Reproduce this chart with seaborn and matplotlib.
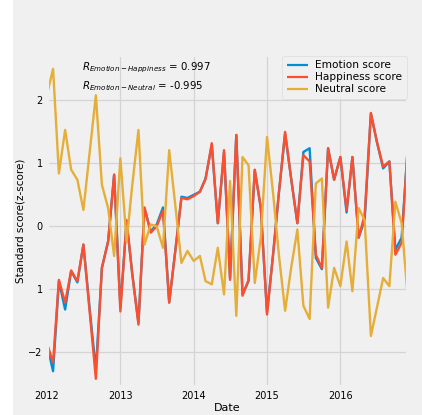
import matplotlib
matplotlib.use("Agg")
import matplotlib.pyplot as plt
import matplotlib.dates as mdates
from matplotlib.patches import Rectangle
import seaborn as sns
import pandas as pd

# monthly values, Jan 2012 .. Dec 2016
months = pd.date_range("2012-01-01", periods=60, freq="MS")

emotion = [-1.87, -2.30, -0.87, -1.32, -0.71, -0.89, -0.29, -1.30, -2.28, -0.66,
           -0.24, 0.82, -1.29, 0.08, -0.75, -1.53, 0.29, -0.08, 0.03, 0.30,
           -1.21, -0.40, 0.47, 0.45, 0.50, 0.55, 0.76, 1.29, 0.05, 1.18,
           -0.82, 1.45, -1.08, -0.87, 0.89, 0.29, -1.37, -0.42, 0.53, 1.47,
           0.76, 0.05, 1.18, 1.24, -0.50, -0.68, 1.24, 0.74, 1.10, 0.22,
           1.10, -0.18, 0.10, 1.79, 1.34, 0.92, 1.03, -0.37, -0.18, 1.24]

happiness = [-1.85, -2.16, -0.85, -1.21, -0.70, -0.87, -0.29, -1.35, -2.42, -0.66,
             -0.24, 0.82, -1.35, 0.10, -0.75, -1.56, 0.30, -0.10, 0.00, 0.25,
             -1.21, -0.40, 0.45, 0.43, 0.48, 0.55, 0.75, 1.32, 0.05, 1.21,
             -0.85, 1.45, -1.10, -0.85, 0.90, 0.30, -1.40, -0.42, 0.53, 1.50,
             0.76, 0.05, 1.13, 1.03, -0.45, -0.66, 1.24, 0.74, 1.10, 0.26,
             1.10, -0.18, 0.18, 1.80, 1.34, 0.95, 1.03, -0.45, -0.26, 1.24]

neutral = [2.08, 2.50, 0.84, 1.53, 0.90, 0.74, 0.26, 1.17, 2.08, 0.66,
           0.29, -0.47, 1.08, -0.24, 0.65, 1.53, -0.29, 0.03, 0.00, -0.34,
           1.21, 0.35, -0.58, -0.39, -0.55, -0.47, -0.87, -0.92, -0.34, -1.08,
           0.72, -1.42, 1.10, 0.97, -0.90, -0.18, 1.42, 0.50, -0.45, -1.34,
           -0.66, -0.05, -1.26, -1.47, 0.68, 0.76, -1.29, -0.66, -0.95, -0.24,
           -1.03, 0.29, 0.10, -1.74, -1.29, -0.82, -0.95, 0.39, 0.05, -1.10]

labels = ["Emotion score", "Happiness score", "Neutral score"]
colors = ["#008fd5", "#fc4f30", "#e5ae38"]
ytick_labels = ["\u22122", "1", "0", "1", "2"]

df = pd.DataFrame({"Date": months, labels[0]: emotion,
                   labels[1]: happiness, labels[2]: neutral})
long_df = df.melt(id_vars="Date", var_name="series", value_name="score")

plt.style.use("fivethirtyeight")
fig = plt.figure(figsize=(4.22, 4.15), dpi=100, facecolor="#f0f0f0")
ax = fig.add_axes([0.111, 0.0675, 0.855, 0.80])
ax.set_facecolor("#f0f0f0")

sns.lineplot(data=long_df, x="Date", y="score", hue="series",
             palette=dict(zip(labels, colors)), linewidth=1.7, ax=ax)

ax.set_xlim(months[0], months[-1])
ax.set_ylim(-2.55, 2.72)
ax.set_yticks([-2, -1, 0, 1, 2])
ax.set_yticklabels(ytick_labels)
ax.xaxis.set_major_locator(mdates.YearLocator())
ax.xaxis.set_major_formatter(mdates.DateFormatter("%Y"))
ax.tick_params(labelsize=7, length=0, pad=3)
ax.grid(True, color="#d4d4d4", linewidth=0.9)

ax.set_xlabel("Date", fontsize=8, labelpad=1)
ax.set_ylabel("Standard score(z-score)", fontsize=7.5, labelpad=2)

ax.text(0.097, 0.962, r"$R_{Emotion-Happiness}$ = 0.997", transform=ax.transAxes,
        fontsize=7.4, va="center")
ax.text(0.097, 0.907, r"$R_{Emotion-Neutral}$ = -0.995", transform=ax.transAxes,
        fontsize=7.4, va="center")

leg = ax.legend(loc="upper right", fontsize=7.6, frameon=True, handlelength=2.0,
                borderpad=0.45, labelspacing=0.2, borderaxespad=0.05,
                handletextpad=0.7)
leg.get_frame().set_facecolor("#f0f0f0")
leg.get_frame().set_edgecolor("#d8d8d8")
for line in leg.get_lines():
    line.set_linewidth(1.6)

# white strip on the left edge as in the reference
fig.patches.append(Rectangle((0, 0), 13 / 422, 1, transform=fig.transFigure,
                             facecolor="white", edgecolor="none", zorder=-1))

fig.savefig("out.png", dpi=100, facecolor=fig.get_facecolor())
